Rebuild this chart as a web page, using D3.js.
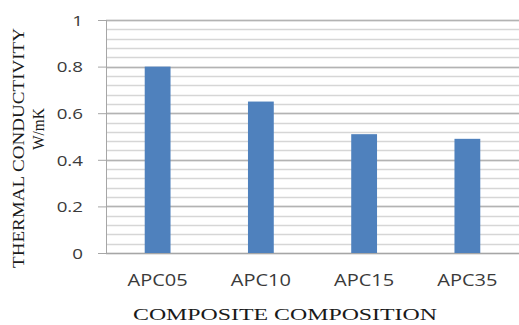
<!DOCTYPE html>
<html>
<head>
<meta charset="utf-8">
<script src="https://cdn.jsdelivr.net/npm/d3@7"></script>
<style>
  body { margin: 0; background: #fff; }
</style>
</head>
<body>
<div id="chart"></div>
<script>
// chart data
const categories = ["APC05", "APC10", "APC15", "APC35"];
const conductivity = [0.80, 0.65, 0.51, 0.49];
const yTicks = [0, 0.2, 0.4, 0.6, 0.8, 1];
const yMinorTicks = d3.range(0, 1.0001, 0.04);

const W = 519, H = 325;
const margin = { top: 20, right: 0, bottom: 72, left: 106 };
const width = W - margin.left - margin.right;
const height = H - margin.top - margin.bottom;
const stretch = 1.25; // text in the picture is a bit wide

const svg = d3.select("#chart").append("svg")
  .attr("width", W)
  .attr("height", H);

const g = svg.append("g")
  .attr("transform", `translate(${margin.left},${margin.top})`);

const x = d3.scaleBand()
  .domain(categories)
  .range([0, width])
  .paddingInner(0.75)
  .paddingOuter(0.375);

const y = d3.scaleLinear()
  .domain([0, 1])
  .range([height, 0]);

// minor gridlines
g.append("g")
  .selectAll("line")
  .data(yMinorTicks)
  .join("line")
  .attr("x1", 0).attr("x2", width)
  .attr("y1", d => Math.round(y(d)) + 0.5)
  .attr("y2", d => Math.round(y(d)) + 0.5)
  .attr("stroke", "#d6d6d6")
  .attr("stroke-width", 1.5);

// major gridlines
g.append("g")
  .selectAll("line")
  .data(yTicks)
  .join("line")
  .attr("x1", 0).attr("x2", width)
  .attr("y1", d => Math.round(y(d)) + 0.5)
  .attr("y2", d => Math.round(y(d)) + 0.5)
  .attr("stroke", "#b3b3b3")
  .attr("stroke-width", 1.3);

// bars
g.selectAll("rect.bar")
  .data(categories)
  .join("rect")
  .attr("class", "bar")
  .attr("x", d => x(d))
  .attr("width", x.bandwidth())
  .attr("y", (d, i) => y(conductivity[i]))
  .attr("height", (d, i) => height - y(conductivity[i]))
  .attr("fill", "#4f81bd");

// y axis
const yAxis = g.append("g")
  .call(d3.axisLeft(y).tickValues(yTicks).tickSize(8).tickPadding(15)
    .tickFormat(d => d3.format("")(+d.toFixed(1))));
yAxis.select(".domain").attr("stroke", "#a6a6a6").attr("d", `M0.5,${height}V0`);
yAxis.selectAll(".tick line").attr("stroke", "#a6a6a6");
yAxis.selectAll("text")
  .attr("font-family", "Open Sans, sans-serif")
  .attr("font-size", 15)
  .attr("fill", "#3a3a3a")
  .attr("dy", "0.35em");

// x axis
const xAxis = g.append("g")
  .attr("transform", `translate(0,${height})`)
  .call(d3.axisBottom(x).tickSize(0).tickPadding(22));
xAxis.select(".domain").attr("stroke", "#a6a6a6").attr("d", `M-8,0.5H${width}`);
xAxis.selectAll("text")
  .attr("font-family", "Open Sans, sans-serif")
  .attr("font-size", 16)
  .attr("fill", "#3a3a3a");

// widen labels to match the source
svg.selectAll(".tick text").each(function () {
  const len = this.getComputedTextLength();
  d3.select(this).attr("textLength", len * stretch).attr("lengthAdjust", "spacingAndGlyphs");
});

// axis titles
const titleFont = { family: "Liberation Serif, serif", size: 16, fill: "#1a1a1a" };

svg.append("text")
  .attr("x", 285)
  .attr("y", 320)
  .attr("text-anchor", "middle")
  .attr("font-family", titleFont.family)
  .attr("font-size", titleFont.size)
  .attr("fill", titleFont.fill)
  .attr("textLength", 304)
  .attr("lengthAdjust", "spacingAndGlyphs")
  .text("COMPOSITE COMPOSITION");

svg.append("text")
  .attr("transform", "translate(24,148) rotate(-90)")
  .attr("text-anchor", "middle")
  .attr("font-family", titleFont.family)
  .attr("font-size", titleFont.size)
  .attr("fill", titleFont.fill)
  .attr("textLength", 240)
  .attr("lengthAdjust", "spacingAndGlyphs")
  .text("THERMAL CONDUCTIVITY");

svg.append("text")
  .attr("transform", "translate(44,129) rotate(-90)")
  .attr("text-anchor", "middle")
  .attr("font-family", titleFont.family)
  .attr("font-size", titleFont.size)
  .attr("fill", titleFont.fill)
  .attr("textLength", 42)
  .attr("lengthAdjust", "spacingAndGlyphs")
  .text("W/mK");
</script>
</body>
</html>
